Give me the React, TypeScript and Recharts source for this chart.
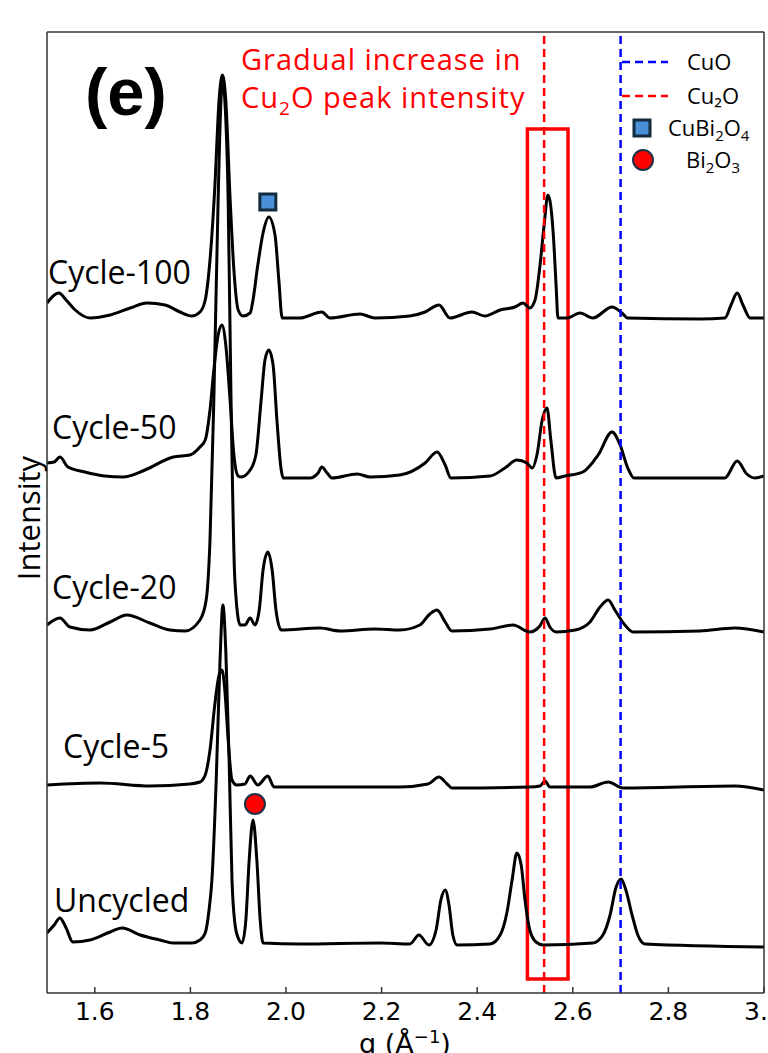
import { LineChart, Line, XAxis, YAxis, ReferenceLine, ReferenceArea, ReferenceDot } from "recharts"

// q (1/Å) vs relative intensity above each pattern's own baseline
const uncycled: [number, number][] = [
 [1.500,11],[1.515,19],[1.527,26],[1.540,16],[1.554,2],[1.590,4],[1.632,12],[1.657,16],[1.695,9],[1.736,4],
 [1.764,1],[1.803,1],[1.820,4],[1.831,11],[1.839,34],[1.845,64],[1.854,164],[1.862,284],[1.868,339],[1.874,294],
 [1.881,184],[1.887,64],[1.893,21],[1.900,6],[1.908,1],[1.916,24],[1.923,84],[1.931,124],[1.939,84],[1.946,24],
 [1.952,1],[2.029,0],[2.197,1],[2.259,0],[2.278,9],[2.299,-1],[2.314,14],[2.324,44],[2.333,54],[2.341,39],
 [2.349,9],[2.358,-1],[2.427,0],[2.448,9],[2.462,31],[2.473,64],[2.483,91],[2.492,79],[2.500,44],[2.510,14],
 [2.523,2],[2.538,-1],[2.642,1],[2.663,9],[2.678,29],[2.690,56],[2.701,65],[2.711,54],[2.724,29],[2.736,9],
 [2.751,0],[3.000,-3]
]

const cycle5: [number, number][] = [
 [1.500,1],[1.611,3],[1.715,0],[1.799,2],[1.820,4],[1.831,11],[1.841,36],[1.851,81],[1.860,111],[1.866,116],
 [1.872,96],[1.879,46],[1.887,6],[1.897,1],[1.914,2],[1.925,10],[1.941,1],[1.962,10],[1.975,-1],[2.238,-1],
 [2.297,2],[2.320,9],[2.337,2],[2.347,-2],[2.510,-1],[2.531,0],[2.542,5],[2.552,-1],[2.636,-1],[2.674,4],
 [2.705,-2],[2.939,0],[3.000,-4]
]

const cycle20: [number, number][] = [
 [1.500,6],[1.527,13],[1.548,4],[1.590,1],[1.632,9],[1.667,16],[1.715,8],[1.757,1],[1.789,0],[1.820,11],
 [1.833,31],[1.841,91],[1.849,231],[1.858,431],[1.864,531],[1.868,551],[1.872,531],[1.879,431],[1.885,231],[1.893,51],
 [1.904,6],[1.914,6],[1.925,13],[1.935,6],[1.944,21],[1.952,61],[1.962,79],[1.971,61],[1.979,21],[1.990,1],
 [2.071,3],[2.113,0],[2.186,2],[2.238,1],[2.280,6],[2.301,17],[2.316,21],[2.333,9],[2.347,0],[2.427,2],
 [2.475,6],[2.510,-1],[2.531,5],[2.542,13],[2.552,4],[2.565,-1],[2.605,1],[2.636,9],[2.657,24],[2.674,31],
 [2.688,21],[2.709,6],[2.726,-1],[2.866,0],[2.939,3],[3.000,-1]
]

const cycle50: [number, number][] = [
 [1.500,15],[1.515,16],[1.527,21],[1.544,11],[1.579,6],[1.621,2],[1.659,1],[1.705,8],[1.764,21],[1.799,23],
 [1.820,31],[1.831,38],[1.841,68],[1.849,108],[1.858,143],[1.866,153],[1.874,133],[1.883,78],[1.891,23],[1.900,2],
 [1.906,1],[1.925,8],[1.937,23],[1.948,78],[1.956,118],[1.964,128],[1.973,113],[1.981,58],[1.990,8],[1.994,0],
 [2.050,0],[2.067,5],[2.075,11],[2.086,5],[2.096,0],[2.149,4],[2.176,1],[2.238,3],[2.291,15],[2.316,26],
 [2.333,13],[2.345,0],[2.427,2],[2.458,10],[2.483,18],[2.504,15],[2.515,10],[2.525,23],[2.536,58],[2.546,70],
 [2.554,38],[2.565,0],[2.584,2],[2.621,6],[2.653,23],[2.682,46],[2.699,33],[2.715,10],[2.728,0],[2.918,0],
 [2.944,17],[2.964,4],[2.981,0],[3.000,2]
]

const cycle100: [number, number][] = [
 [1.500,15],[1.525,25],[1.540,18],[1.559,8],[1.590,0],[1.632,3],[1.674,10],[1.709,15],[1.747,13],[1.778,6],
 [1.803,2],[1.820,6],[1.831,18],[1.841,58],[1.851,130],[1.860,218],[1.867,243],[1.874,218],[1.883,120],[1.891,48],
 [1.900,8],[1.910,2],[1.925,5],[1.931,18],[1.941,53],[1.952,85],[1.964,101],[1.977,83],[1.985,38],[1.992,0],
 [2.029,0],[2.075,6],[2.092,0],[2.155,4],[2.186,0],[2.259,2],[2.291,6],[2.320,13],[2.343,0],[2.389,6],
 [2.416,2],[2.448,8],[2.479,11],[2.496,15],[2.510,10],[2.521,18],[2.531,51],[2.540,93],[2.548,123],[2.559,85],
 [2.565,33],[2.569,0],[2.588,0],[2.615,5],[2.642,0],[2.682,11],[2.703,5],[2.715,0],[2.866,-1],[2.918,0],
 [2.931,13],[2.944,25],[2.956,13],[2.971,0],[3.000,0]
]

const seriesNames = ["Uncycled", "Cycle-5", "Cycle-20", "Cycle-50", "Cycle-100"]
const seriesData = [uncycled, cycle5, cycle20, cycle50, cycle100]
const offsets = [49, 207, 362, 515, 675]

const xTicks = [1.6, 1.8, 2.0, 2.2, 2.4, 2.6, 2.8, 3.0]
const cuOLine = 2.70
const cu2OLine = 2.54
const highlightBox = { q1: 2.505, q2: 2.59, i1: 14, i2: 864 }
const cuBi2O4Mark = { q: 1.962, i: 791 }
const bi2O3Mark = { q: 1.935, i: 189 }

const W = 768
const H = 1053
// plot box: x 47..764, y 32..993 (each axis takes 1px)
const M = { top: 31, right: 3, bottom: 59, left: 46 }

const sans = "'Open Sans', sans-serif"
const frame = { stroke: "#333", strokeWidth: 1.5 }

function BottomTick(props: any) {
 const { x, y, payload } = props
 return (
  <g>
   <line x1={x} y1={y} x2={x} y2={y - 6} stroke="#333" strokeWidth={1.5} />
   <text x={x} y={y + 27} textAnchor="middle" fontFamily="'DejaVu Sans'" fontSize={25} fill="#000">
    {payload.value.toFixed(1)}
   </text>
  </g>
 )
}

const labelPos = [
 { left: 54, top: 884 },
 { left: 63, top: 730 },
 { left: 52, top: 571 },
 { left: 52, top: 411 },
 { left: 48, top: 256 },
]

export default function App(){

 return(

 <div style={{ position: "absolute", left: 0, top: 0, width: W, height: H, overflow: "hidden", background: "#fff" }}>

  <LineChart width={W} height={H} margin={M}>

   <XAxis
    dataKey="q"
    type="number"
    domain={[1.5, 3.0]}
    ticks={xTicks}
    allowDataOverflow
    height={1}
    tickSize={0}
    tickMargin={0}
    tickLine={false}
    tick={<BottomTick />}
    axisLine={frame}
   />
   <XAxis xAxisId="top" orientation="top" type="number" domain={[1.5, 3.0]} height={1} tick={false} tickLine={false} axisLine={frame} />
   <YAxis type="number" domain={[0, 961]} width={1} tick={false} tickLine={false} axisLine={frame} />
   <YAxis yAxisId="right" orientation="right" type="number" domain={[0, 961]} width={1} tick={false} tickLine={false} axisLine={frame} />

   {seriesData.map((s, k) => (
    <Line
     key={seriesNames[k]}
     name={seriesNames[k]}
     data={s.map(([q, v]) => ({ q, v: v + offsets[k] }))}
     dataKey="v"
     type="monotone"
     stroke="#000"
     strokeWidth={3}
     dot={false}
     isAnimationActive={false}
    />
   ))}

   <ReferenceArea
    x1={highlightBox.q1}
    x2={highlightBox.q2}
    y1={highlightBox.i1}
    y2={highlightBox.i2}
    fill="none"
    fillOpacity={0}
    stroke="#ff0000"
    strokeWidth={3.5}
   />
   <ReferenceLine x={cu2OLine} stroke="#ff0000" strokeWidth={2.5} strokeDasharray="8 5" />
   <ReferenceLine x={cuOLine} stroke="#0000ff" strokeWidth={2.5} strokeDasharray="8 5" />

   <ReferenceDot
    x={cuBi2O4Mark.q}
    y={cuBi2O4Mark.i}
    r={8}
    shape={(p: any) => <rect x={p.cx - 8} y={p.cy - 8} width={16} height={16} fill="#4a8fd8" stroke="#112a3c" strokeWidth={3} />}
   />
   <ReferenceDot
    x={bi2O3Mark.q}
    y={bi2O3Mark.i}
    r={10}
    shape={(p: any) => <circle cx={p.cx} cy={p.cy} r={10} fill="#ff0000" stroke="#1d3345" strokeWidth={2} />}
   />

  </LineChart>

  {/* series labels */}
  {seriesNames.map((n, k) => (
   <div key={n} style={{ position: "absolute", left: labelPos[k].left, top: labelPos[k].top, fontFamily: sans, fontSize: 32, lineHeight: 1, color: "#000", whiteSpace: "nowrap" }}>
    {n}
   </div>
  ))}

  <div style={{ position: "absolute", left: 85, top: 58, fontFamily: "'Liberation Sans', Arial, sans-serif", fontWeight: "bold", fontSize: 67, lineHeight: 1 }}>(e)</div>

  <div style={{ position: "absolute", left: 241, top: 40, fontFamily: sans, fontSize: 29, letterSpacing: 1, lineHeight: "38px", color: "#ff0000", whiteSpace: "nowrap" }}>
   Gradual increase in<br />
   Cu<sub style={{ fontSize: 19, lineHeight: 0 }}>2</sub>O peak intensity
  </div>

  {/* legend */}
  <svg style={{ position: "absolute", left: 0, top: 0 }} width={W} height={200}>
   <line x1={622} y1={62} x2={668} y2={62} stroke="#0000ff" strokeWidth={2.5} strokeDasharray="8 5" />
   <line x1={622} y1={96} x2={668} y2={96} stroke="#ff0000" strokeWidth={2.5} strokeDasharray="8 5" />
   <rect x={634} y={120} width={16} height={16} fill="#4a8fd8" stroke="#112a3c" strokeWidth={3} />
   <circle cx={643} cy={160} r={10} fill="#ff0000" stroke="#1d3345" strokeWidth={2} />
  </svg>
  <div style={{ position: "absolute", left: 687, top: 50, fontFamily: sans, fontSize: 22, lineHeight: 1 }}>CuO</div>
  <div style={{ position: "absolute", left: 687, top: 84, fontFamily: sans, fontSize: 22, lineHeight: 1 }}>Cu₂O</div>
  <div style={{ position: "absolute", left: 668, top: 116, fontFamily: sans, fontSize: 22, lineHeight: 1, whiteSpace: "nowrap" }}>
   CuBi<sub style={{ fontSize: 15, lineHeight: 0 }}>2</sub>O<sub style={{ fontSize: 15, lineHeight: 0 }}>4</sub>
  </div>
  <div style={{ position: "absolute", left: 686, top: 148, fontFamily: sans, fontSize: 22, lineHeight: 1, whiteSpace: "nowrap" }}>
   Bi<sub style={{ fontSize: 15, lineHeight: 0 }}>2</sub>O<sub style={{ fontSize: 15, lineHeight: 0 }}>3</sub>
  </div>

  {/* axis titles */}
  <div style={{ position: "absolute", left: 28, top: 518, transform: "translate(-50%, -50%) rotate(-90deg)", fontFamily: sans, fontSize: 31, lineHeight: 1, whiteSpace: "nowrap" }}>Intensity</div>
  <div style={{ position: "absolute", left: 405, top: 1030, transform: "translateX(-50%)", fontFamily: "'DejaVu Sans'", fontSize: 27, lineHeight: 1, whiteSpace: "nowrap" }}>
   q (Å<sup style={{ fontSize: 18, lineHeight: 0 }}>−1</sup>)
  </div>

 </div>

 )
}
